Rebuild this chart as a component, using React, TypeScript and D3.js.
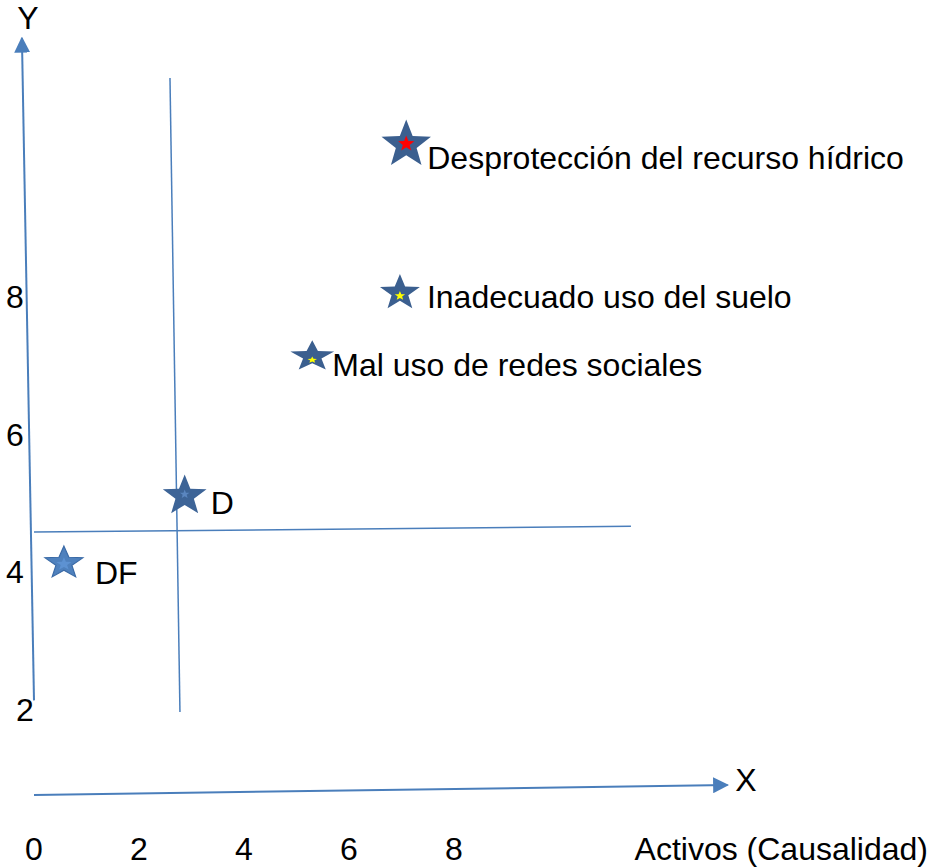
import { useEffect, useRef } from "react";
import * as d3 from "d3";

// star points (x = Activos/Causalidad, y = Y)
const names = [
  "Desprotección del recurso hídrico",
  "Inadecuado uso del suelo",
  "Mal uso de redes sociales",
  "D",
  "DF",
];
const xValues = [7.09, 6.97, 5.3, 2.87, 0.57];
const yValues = [10.24, 8.06, 7.07, 5.12, 4.12];

const xTicks = [0, 2, 4, 6, 8];
const yTicks = [2, 4, 6, 8];

// style for each star: outer radius, vertical squash, colours, label offset
const starStyles = [
  { r: 26, sy: 0.97, fill: "#3b5f8f", stroke: "none", inner: "#ff0000", ir: 8.5, idy: 1, lx: 21, ly: 15 },
  { r: 21, sy: 0.9, fill: "#3b5f8f", stroke: "none", inner: "#ffff00", ir: 5.5, idy: 3, lx: 27, ly: 4 },
  { r: 23, sy: 0.7, fill: "#3b5f8f", stroke: "none", inner: "#ffff00", ir: 5, idy: -1, lx: 20, ly: 4 },
  { r: 23, sy: 0.93, fill: "#3d6497", stroke: "none", inner: "#5a86c0", ir: 5, idy: -1, lx: 26, ly: 8 },
  { r: 20, sy: 0.85, fill: "#4f81bd", stroke: "#3a6aa6", inner: "#5d92d2", ir: 8, idy: 0, lx: 31, ly: 9 },
];

// guide lines, in data units [x1, y1, x2, y2]
const quadrantLines = [
  [2.59, 11.18, 2.78, 1.97],
  [0, 4.585, 11.37, 4.67],
];
const yAxisLine = [0, 2.14, -0.23, 11.76];
const xAxisLine = [0, 0.765, 13.21, 0.91];

const W = 931;
const H = 867;
const LINE = "#4a7ebb";
const FONT = "Liberation Sans, Arial, sans-serif";
const FS = 32;

function renderChart(element: SVGSVGElement) {
  const svg = d3.select(element);
  svg.selectAll("*").remove();

  const x = d3.scaleLinear().domain([0, 8]).range([34, 454]);
  const y = d3.scaleLinear().domain([2, 8]).range([710, 297]);

  const defs = svg.append("defs");
  defs
    .append("marker")
    .attr("id", "arrow")
    .attr("viewBox", "0 0 10 10")
    .attr("refX", 9)
    .attr("refY", 5)
    .attr("markerWidth", 8)
    .attr("markerHeight", 8)
    .attr("markerUnits", "strokeWidth")
    .attr("orient", "auto")
    .append("path")
    .attr("d", "M0,0 L10,5 L0,10 Z")
    .attr("fill", LINE);

  // axes with arrows
  [yAxisLine, xAxisLine].forEach((l) => {
    svg
      .append("line")
      .attr("x1", x(l[0]))
      .attr("y1", y(l[1]))
      .attr("x2", x(l[2]))
      .attr("y2", y(l[3]))
      .attr("stroke", LINE)
      .attr("stroke-width", 2)
      .attr("marker-end", "url(#arrow)");
  });

  // quadrant lines
  svg
    .selectAll("line.quad")
    .data(quadrantLines)
    .join("line")
    .attr("class", "quad")
    .attr("x1", (d) => x(d[0]))
    .attr("y1", (d) => y(d[1]))
    .attr("x2", (d) => x(d[2]))
    .attr("y2", (d) => y(d[3]))
    .attr("stroke", LINE)
    .attr("stroke-width", 1.5);

  const text = svg
    .append("g")
    .attr("font-family", FONT)
    .attr("font-size", FS)
    .attr("fill", "#000");

  // tick labels
  text
    .selectAll("text.xt")
    .data(xTicks)
    .join("text")
    .attr("class", "xt")
    .attr("x", (d) => x(d))
    .attr("y", 860)
    .attr("text-anchor", "middle")
    .text((d) => d);

  text
    .selectAll("text.yt")
    .data(yTicks)
    .join("text")
    .attr("class", "yt")
    .attr("x", (d) => (d === 2 ? 25 : 15))
    .attr("y", (d) => y(d) + 11)
    .attr("text-anchor", "middle")
    .text((d) => d);

  text.append("text").attr("x", 28).attr("y", 29).attr("text-anchor", "middle").text("Y");
  text.append("text").attr("x", 746).attr("y", 791).attr("text-anchor", "middle").text("X");
  text.append("text").attr("x", 928).attr("y", 860).attr("text-anchor", "end").text("Activos (Causalidad)");

  // stars: 5 points, a bit chunkier than d3.symbolStar (like office shapes)
  const starLine = d3.lineRadial<number>().curve(d3.curveLinearClosed);
  const star = (r: number) =>
    starLine(
      d3.range(10).map((i) => [(i * Math.PI) / 5, i % 2 ? r * 0.42 : r] as [number, number]) as any
    )!;

  const points = names.map((n, i) => ({ name: n, vx: xValues[i], vy: yValues[i], s: starStyles[i] }));

  const g = svg
    .selectAll("g.pt")
    .data(points)
    .join("g")
    .attr("class", "pt")
    .attr("transform", (d) => `translate(${x(d.vx)},${y(d.vy)})`);

  g.append("path")
    .attr("d", (d) => star(d.s.r))
    .attr("transform", (d) => `translate(0,${d.s.r * d.s.sy - d.s.r * 0.9}) scale(1,${d.s.sy})`)
    .attr("fill", (d) => d.s.fill)
    .attr("stroke", (d) => d.s.stroke)
    .attr("stroke-width", 1.2);

  g.append("path")
    .attr("d", (d) => star(d.s.ir))
    .attr("transform", (d) => `translate(0,${d.s.idy}) scale(1,${d.s.sy})`)
    .attr("fill", (d) => d.s.inner);

  g.append("text")
    .attr("x", (d) => d.s.lx)
    .attr("y", (d) => d.s.ly + 11)
    .attr("font-family", FONT)
    .attr("font-size", FS)
    .attr("fill", "#000")
    .text((d) => d.name);
}

export default function App() {
  const ref = useRef<SVGSVGElement>(null);
  useEffect(() => {
    if (ref.current) renderChart(ref.current);
  }, []);
  return (
    <svg
      ref={ref}
      width={W}
      height={H}
      style={{ position: "absolute", left: 0, top: 0, background: "#fff" }}
    />
  );
}
